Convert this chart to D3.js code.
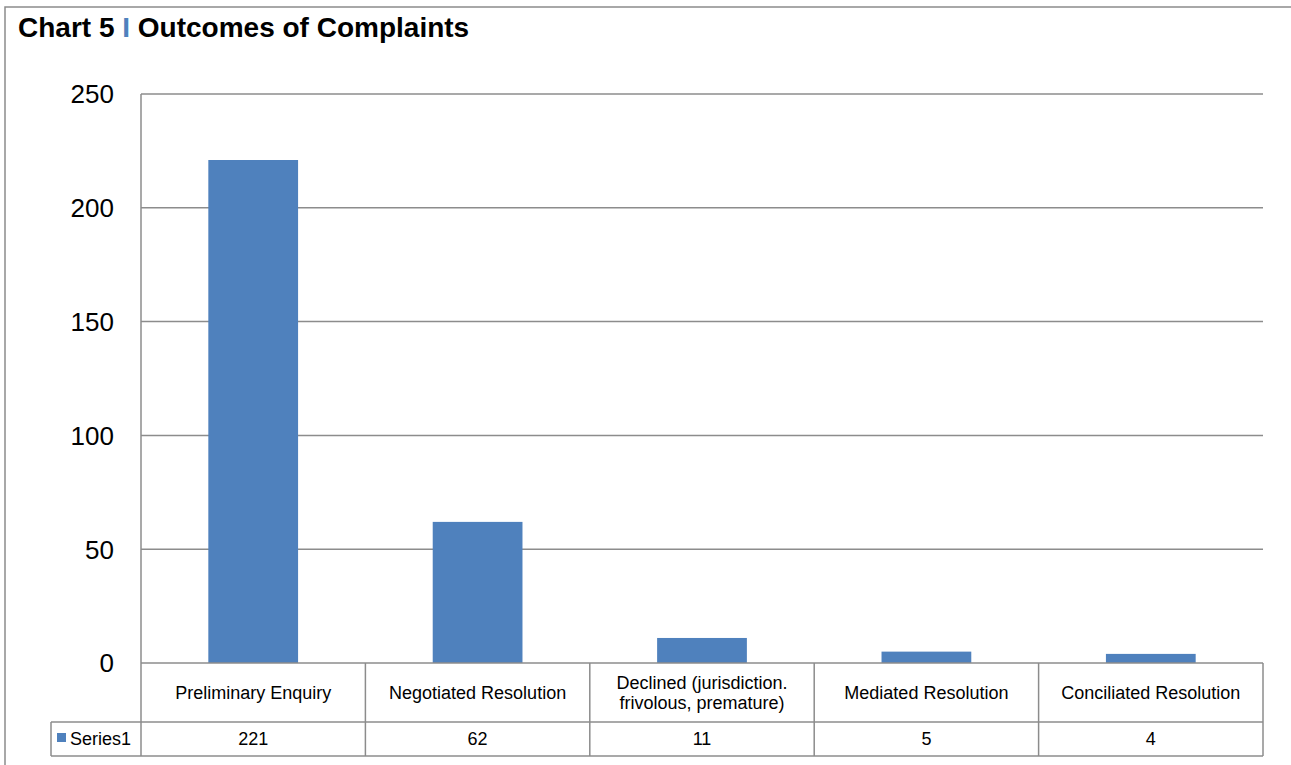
<!DOCTYPE html>
<html>
<head>
<meta charset="utf-8">
<script src="https://cdn.jsdelivr.net/npm/d3@7"></script>
<style>
  html, body { margin: 0; padding: 0; background: #fff; }
  svg { display: block; font-family: Arial, "Liberation Sans", sans-serif; }
</style>
</head>
<body>
<svg id="chart" width="1291" height="765"></svg>
<script>
// Outcome categories (two-line labels where the table cell wraps)
const categories = [
  ["Preliminary Enquiry"],
  ["Negotiated Resolution"],
  ["Declined (jurisdiction.", "frivolous, premature)"],
  ["Mediated Resolution"],
  ["Conciliated Resolution"]
];
const seriesName = "Series1";
const values = [221, 62, 11, 5, 4];
const yTicks = [0, 50, 100, 150, 200, 250];

(function draw() {
  const svg = d3.select("#chart");
  const gridColor = "#8c8c8c";
  const barColor = "#4f81bd";

  // Outer frame (top and left edges)
  svg.append("path")
    .attr("d", "M5,765 V7 H1291")
    .attr("fill", "none")
    .attr("stroke", "#8c8c8c")
    .attr("stroke-width", 1.5);

  // Title
  const title = svg.append("text")
    .attr("x", 18).attr("y", 37)
    .attr("font-size", 28).attr("font-weight", "bold").attr("fill", "#000");
  title.append("tspan").text("Chart 5 ");
  title.append("tspan").attr("fill", "#4f81bd").text("I");
  title.append("tspan").text(" Outcomes of Complaints");

  // Plot area
  const plotL = 141, plotR = 1263, plotT = 94, plotB = 663;
  const x = d3.scaleBand().domain(d3.range(values.length)).range([plotL, plotR]).paddingInner(0).paddingOuter(0);
  const y = d3.scaleLinear().domain([0, 250]).range([plotB, plotT]);

  // Gridlines
  svg.append("g")
    .selectAll("line")
    .data(yTicks.filter(t => t > 0))
    .join("line")
    .attr("x1", plotL).attr("x2", plotR)
    .attr("y1", d => y(d)).attr("y2", d => y(d))
    .attr("stroke", gridColor).attr("stroke-width", 1.5);

  // Y axis tick labels
  svg.append("g")
    .selectAll("text")
    .data(yTicks)
    .join("text")
    .attr("x", 114)
    .attr("y", d => y(d))
    .attr("dy", "0.36em")
    .attr("text-anchor", "end")
    .attr("font-size", 26)
    .attr("fill", "#000")
    .text(d => d);

  // Bars
  const barW = x.bandwidth() * 0.4;
  svg.append("g")
    .selectAll("rect")
    .data(values)
    .join("rect")
    .attr("x", (d, i) => x(i) + (x.bandwidth() - barW) / 2)
    .attr("y", d => y(d))
    .attr("width", barW)
    .attr("height", d => y(0) - y(d))
    .attr("fill", barColor);

  // Y axis line
  svg.append("line")
    .attr("x1", plotL).attr("x2", plotL)
    .attr("y1", plotT).attr("y2", plotB)
    .attr("stroke", gridColor).attr("stroke-width", 1.5);

  // Data table below the axis
  const rowMid = 722, tableBottom = 756, keyLeft = 51;
  const tbl = svg.append("g")
    .attr("fill", "none")
    .attr("stroke", gridColor)
    .attr("stroke-width", 1.5);
  tbl.append("line").attr("x1", plotL).attr("x2", plotR).attr("y1", plotB).attr("y2", plotB);
  tbl.append("line").attr("x1", keyLeft).attr("x2", plotR).attr("y1", rowMid).attr("y2", rowMid);
  tbl.append("line").attr("x1", keyLeft).attr("x2", plotR).attr("y1", tableBottom).attr("y2", tableBottom);
  tbl.selectAll("line.v")
    .data(d3.range(values.length + 1))
    .join("line")
    .attr("class", "v")
    .attr("x1", i => i < values.length ? x(i) : plotR)
    .attr("x2", i => i < values.length ? x(i) : plotR)
    .attr("y1", plotB).attr("y2", tableBottom);
  tbl.append("line").attr("x1", keyLeft).attr("x2", keyLeft).attr("y1", rowMid).attr("y2", tableBottom);

  // Category labels
  svg.append("g")
    .selectAll("text")
    .data(categories)
    .join("text")
    .attr("text-anchor", "middle")
    .attr("font-size", 18)
    .attr("fill", "#000")
    .each(function(lines, i) {
      const t = d3.select(this);
      const cx = x(i) + x.bandwidth() / 2;
      const lh = 20;
      const y0 = (plotB + rowMid) / 2 - (lines.length - 1) * lh / 2;
      lines.forEach((ln, k) => {
        t.append("tspan").attr("x", cx).attr("y", y0 + k * lh).attr("dy", "0.36em").text(ln);
      });
    });

  // Value row
  svg.append("g")
    .selectAll("text")
    .data(values)
    .join("text")
    .attr("x", (d, i) => x(i) + x.bandwidth() / 2)
    .attr("y", (rowMid + tableBottom) / 2)
    .attr("dy", "0.36em")
    .attr("text-anchor", "middle")
    .attr("font-size", 18)
    .attr("fill", "#000")
    .text(d => d);

  // Legend key in the series cell
  svg.append("rect")
    .attr("x", 57).attr("y", 733)
    .attr("width", 9).attr("height", 9)
    .attr("fill", barColor);
  svg.append("text")
    .attr("x", 70).attr("y", (rowMid + tableBottom) / 2)
    .attr("dy", "0.36em")
    .attr("font-size", 18)
    .attr("fill", "#000")
    .text(seriesName);
})();
</script>
</body>
</html>
